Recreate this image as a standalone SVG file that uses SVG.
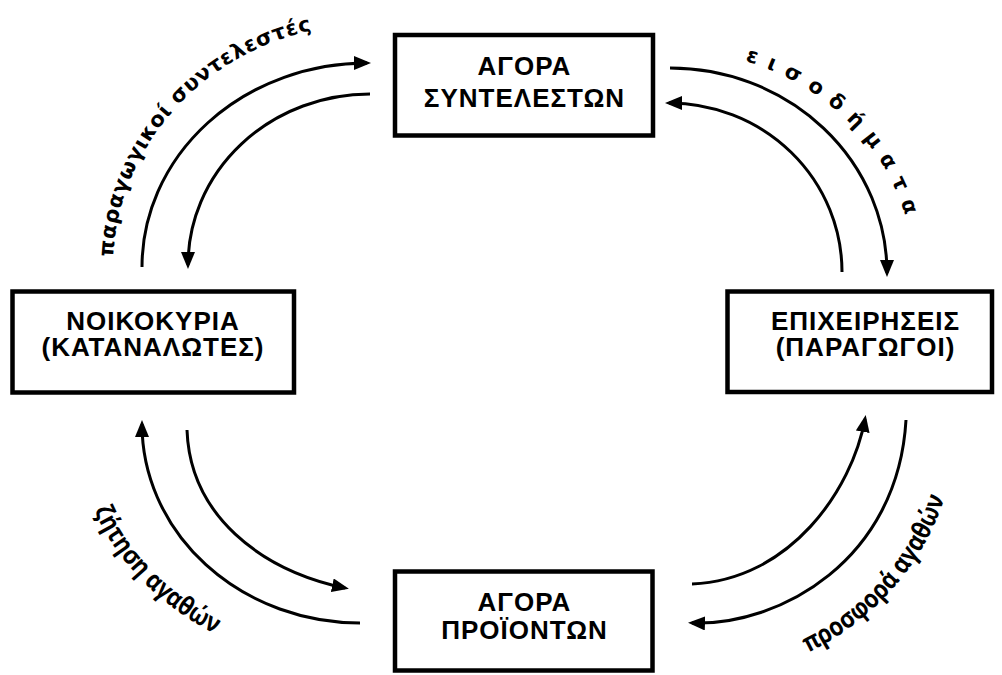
<svg xmlns="http://www.w3.org/2000/svg" width="1002" height="675" viewBox="0 0 1002 675">
<style>
.box{fill:#fff;stroke:#000;stroke-width:4.5}
.lbl{font-family:"Liberation Sans",Arial,sans-serif;font-weight:bold;font-size:26px;letter-spacing:1px;text-anchor:middle;fill:#000}
.flow{fill:none;stroke:#000;stroke-width:3;marker-end:url(#ah)}
.bt{font-family:"DejaVu Sans","Noto Sans",sans-serif;font-weight:bold;font-size:21px;fill:#000}
.nt{font-family:"Open Sans","Noto Sans",sans-serif;font-weight:bold;font-size:26px;fill:#000}
</style>
<defs>
<marker id="ah" markerUnits="userSpaceOnUse" markerWidth="18" markerHeight="14" refX="13" refY="7" orient="auto">
<path d="M0,0 L17,7 L0,14 z" fill="#000"/>
</marker>
<path id="tpTL" d="M 113,267 A 257 243 0 0 1 370,24"/>
<path id="tpTR" d="M 670,50 A 244 225 0 0 1 914,275"/>
<path id="tpBL" d="M 75,422 A 285 246 0 0 0 360,668"/>
<path id="tpBR" d="M 688,680 A 269 260 0 0 0 957,420"/>
</defs>
<rect width="1002" height="675" fill="#fff"/>
<g id="connectors">
<path class="flow" d="M 142,267 A 225 204 0 0 1 367,63"/>
<path class="flow" d="M 370,94 A 182 171 0 0 0 188,265"/>
<path class="flow" d="M 670,68 A 217 205 0 0 1 887,273"/>
<path class="flow" d="M 842,272 A 173 169 0 0 0 669,103"/>
<path class="flow" d="M 360,623 A 218 199 0 0 1 142,424"/>
<path class="flow" d="M 187,430 C 190,515 260,570 345,588"/>
<path class="flow" d="M 692,584 C 790,580 852,490 865,419"/>
<path class="flow" d="M 906,420 C 898,560 780,626 692,623"/>
<text class="bt"><textPath href="#tpTL" startOffset="10" textLength="324">παραγωγικοί συντελεστές</textPath></text>
<text class="bt"><textPath href="#tpTR" startOffset="76" textLength="232">εισοδήματα</textPath></text>
<text class="nt"><textPath href="#tpBL" startOffset="91" textLength="176" lengthAdjust="spacingAndGlyphs">ζήτηση αγαθών</textPath></text>
<text class="nt"><textPath href="#tpBR" startOffset="124" textLength="212" lengthAdjust="spacingAndGlyphs">προσφορά αγαθών</textPath></text>
</g>
<g id="agora-syntelestwn">
<rect class="box" x="395" y="35" width="258" height="100.5"/>
<text class="lbl" x="524.5" y="75">ΑΓΟΡΑ<tspan x="524.5" y="106.5">ΣΥΝΤΕΛΕΣΤΩΝ</tspan></text>
</g>
<g id="noikokyria">
<rect class="box" x="12.5" y="291.5" width="281.5" height="101"/>
<text class="lbl" x="153" y="330">ΝΟΙΚΟΚΥΡΙΑ<tspan x="153" y="356">(ΚΑΤΑΝΑΛΩΤΕΣ)</tspan></text>
</g>
<g id="epixeiriseis">
<rect class="box" x="727.5" y="291.5" width="264.5" height="100.5"/>
<text class="lbl" x="865.5" y="330">ΕΠΙΧΕΙΡΗΣΕΙΣ<tspan x="865.5" y="356">(ΠΑΡΑΓΩΓΟΙ)</tspan></text>
</g>
<g id="agora-proiontwn">
<rect class="box" x="395" y="571.5" width="257.5" height="99"/>
<text class="lbl" x="524.5" y="610.5">ΑΓΟΡΑ<tspan x="524.5" y="639">ΠΡΟΪΟΝΤΩΝ</tspan></text>
</g>
</svg>
